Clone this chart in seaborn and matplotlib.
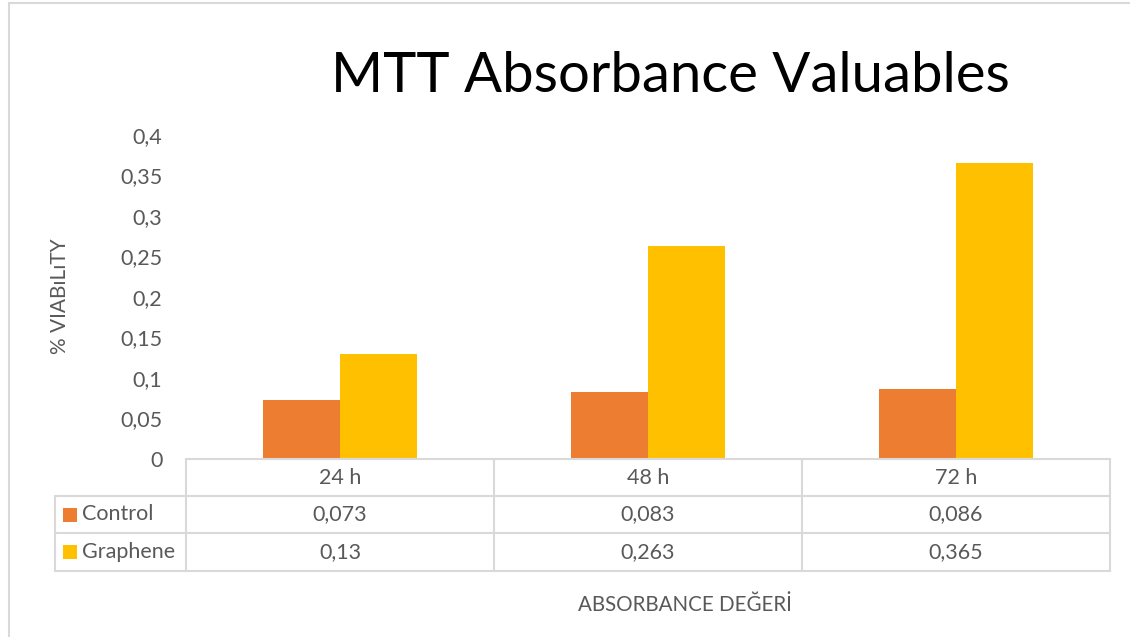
import numpy as np
import pandas as pd
import seaborn as sns
import matplotlib
matplotlib.use("Agg")
import matplotlib.pyplot as plt
from matplotlib.ticker import FuncFormatter
from matplotlib.transforms import blended_transform_factory
from matplotlib.patches import Rectangle

# Data
times = ["24 h", "48 h", "72 h"]
series = ["Control", "Graphene"]
control = [0.073, 0.083, 0.086]
graphene = [0.13, 0.263, 0.365]
y_ticks = [0, 0.05, 0.1, 0.15, 0.2, 0.25, 0.3, 0.35, 0.4]

title = "MTT Absorbance Valuables"
y_label = "% VIABıLıTY"
x_label = "ABSORBANCE DEĞERİ"

colors = {"Control": "#ED7D31", "Graphene": "#FFC000"}
text_gray = "#595959"
line_gray = "#D9D9D9"

df = pd.DataFrame({
    "time": times * 2,
    "series": ["Control"] * 3 + ["Graphene"] * 3,
    "value": control + graphene,
})

sns.set_theme(style="white")
plt.rcParams["font.family"] = ["Lato", "DejaVu Sans"]

W, H = 1130, 637
fig = plt.figure(figsize=(W / 100, H / 100), dpi=100)


def fx(px):
    return px / W


def fy(py):
    return 1 - py / H


ax_left, ax_right, ax_top, ax_bottom = 186, 1110, 135, 459
ax = fig.add_axes([fx(ax_left), fy(ax_bottom), fx(ax_right - ax_left), (ax_bottom - ax_top) / H])

sns.barplot(data=df, x="time", y="value", hue="series", palette=colors,
            width=0.5, saturation=1, order=times, hue_order=series,
            legend=False, ax=ax, edgecolor="none")

fs = 15.5
ax.set_ylim(0, 0.4)
ax.set_xlim(-0.5, len(times) - 0.5)
ax.set_yticks(y_ticks)
ax.yaxis.set_major_formatter(FuncFormatter(lambda v, p: f"{v:g}".replace(".", ",")))
ax.tick_params(axis="y", length=0, pad=17, labelsize=fs, labelcolor=text_gray)
ax.set_xticks([])
ax.set_xlabel("")
ax.set_ylabel("")
for s in ax.spines.values():
    s.set_visible(False)
ax.grid(False)

# Chart frame
fig.add_artist(plt.Line2D([fx(9), fx(9)], [fy(3), 0], transform=fig.transFigure,
                          color=line_gray, lw=1.5))
fig.add_artist(plt.Line2D([fx(9), 1], [fy(3), fy(3)], transform=fig.transFigure,
                          color=line_gray, lw=1.5))

# Title and axis titles
fig.text(fx(670), fy(76), title, ha="center", va="center", fontsize=40.5, color="black")
fig.text(fx(60), fy(296), y_label, ha="center", va="center", rotation=90,
         fontsize=15, color=text_gray)
fig.text(fx(685), fy(605), x_label, ha="center", va="center", fontsize=14.8, color=text_gray)

# Data table under the axis
bt = blended_transform_factory(ax.transData, fig.transFigure)
row_y = [459, 496, 533, 571]
lw = 1.5
n = len(times)
ax.add_line(plt.Line2D([-0.5, n - 0.5], [fy(row_y[0])] * 2, transform=bt,
                       color=line_gray, lw=lw, clip_on=False))
for ry in row_y[1:]:
    fig.add_artist(plt.Line2D([fx(55), fx(ax_left)], [fy(ry)] * 2, transform=fig.transFigure,
                              color=line_gray, lw=lw))
    ax.add_line(plt.Line2D([-0.5, n - 0.5], [fy(ry)] * 2, transform=bt,
                           color=line_gray, lw=lw, clip_on=False))
fig.add_artist(plt.Line2D([fx(55), fx(55)], [fy(row_y[1]), fy(row_y[3])],
                          transform=fig.transFigure, color=line_gray, lw=lw))
for edge in np.arange(-0.5, n, 1.0):
    ax.add_line(plt.Line2D([edge, edge], [fy(row_y[0]), fy(row_y[3])], transform=bt,
                           color=line_gray, lw=lw, clip_on=False))

centers = [(row_y[i] + row_y[i + 1]) / 2 for i in range(3)]
for i, t in enumerate(times):
    ax.text(i, fy(centers[0]), t, transform=bt, ha="center", va="center",
            fontsize=fs, color=text_gray)
for r, (name, vals) in enumerate([("Control", control), ("Graphene", graphene)]):
    cy = centers[r + 1]
    fig.add_artist(Rectangle((fx(63), fy(cy + 7)), fx(14), 14 / H,
                             transform=fig.transFigure, color=colors[name], lw=0))
    fig.text(fx(82), fy(cy), name, ha="left", va="center", fontsize=fs, color=text_gray)
    for i, v in enumerate(vals):
        ax.text(i, fy(cy), f"{v:g}".replace(".", ","), transform=bt, ha="center",
                va="center", fontsize=fs, color=text_gray)

fig.savefig("out.png", dpi=100, facecolor="white")
